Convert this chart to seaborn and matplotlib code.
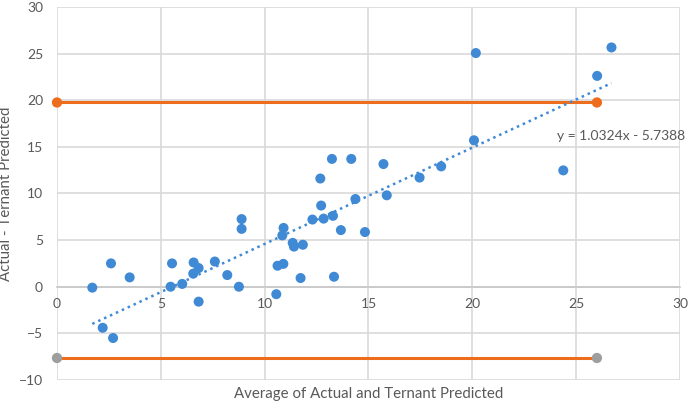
import numpy as np
import pandas as pd
import matplotlib
matplotlib.use("Agg")
import matplotlib.pyplot as plt
import seaborn as sns

# Bland-Altman style data
avg_vals = [1.7, 2.2, 2.6, 2.7, 3.5, 5.47, 5.54, 6.03, 6.56, 6.58, 6.82, 6.82, 7.6, 8.2,
            8.76, 8.89, 8.89, 10.56, 10.62, 10.9, 10.85, 10.91, 11.35, 11.41, 11.84, 11.73,
            12.3, 12.72, 12.84, 13.29, 13.34, 13.67, 12.68, 13.24, 14.17, 14.37, 14.83,
            15.72, 15.88, 17.46, 18.5, 20.17, 20.08, 24.38, 26.01, 26.7]
diff_vals = [-0.1, -4.4, 2.5, -5.5, 1.0, 0.0, 2.5, 0.3, 1.4, 2.6, 2.0, -1.6, 2.7, 1.25,
             0.0, 6.2, 7.25, -0.8, 2.25, 2.45, 5.5, 6.3, 4.7, 4.3, 4.5, 0.93,
             7.2, 8.7, 7.3, 7.6, 1.07, 6.07, 11.6, 13.7, 13.7, 9.4, 5.86,
             13.15, 9.8, 11.7, 12.9, 25.05, 15.7, 12.47, 22.6, 25.65]

limit_x = [0, 26]
upper_limit = 19.75
lower_limit = -7.64

slope = 1.0324
intercept = -5.7388

df = pd.DataFrame({"avg": avg_vals, "diff": diff_vals})

blue = "#3f89d5"
orange = "#ed6d1c"
gray = "#9e9e9e"
text_col = "#595959"

sns.set_style("white")
plt.rcParams["font.family"] = ["Lato", "DejaVu Sans"]

fig, ax = plt.subplots(figsize=(6.9, 4.04), dpi=100)
fig.subplots_adjust(left=0.0826, right=0.9855, top=0.983, bottom=0.0594)

# gridlines
ax.set_xlim(0, 30)
ax.set_ylim(-10, 30)
ax.set_xticks(range(0, 31, 5))
ax.set_yticks(range(-10, 31, 5))
ax.grid(True, color="#d9d9d9", linewidth=1.2)
ax.set_axisbelow(True)
for s in ["top", "right", "left"]:
    ax.spines[s].set_visible(False)
ax.spines["bottom"].set_position(("data", 0))
ax.spines["bottom"].set_color("#c8c8c8")
ax.spines["bottom"].set_linewidth(1.2)
ax.tick_params(axis="both", length=0, labelsize=10, colors=text_col)
ax.tick_params(axis="y", pad=10)
ax.tick_params(axis="x", pad=8)

# limit lines
ax.plot(limit_x, [upper_limit, upper_limit], color=orange, lw=2.2, zorder=2)
ax.plot(limit_x, [lower_limit, lower_limit], color=orange, lw=2.2, zorder=2)
sns.scatterplot(x=limit_x, y=[upper_limit, upper_limit], color=orange, s=55,
                edgecolor="none", ax=ax, zorder=3, clip_on=False)
sns.scatterplot(x=limit_x, y=[lower_limit, lower_limit], color=gray, s=55,
                edgecolor="none", ax=ax, zorder=3, clip_on=False)

# points
sns.scatterplot(data=df, x="avg", y="diff", color=blue, s=52, edgecolor="none",
                ax=ax, zorder=4)

# linear trendline
tx = np.array([df["avg"].min(), df["avg"].max()])
ax.plot(tx, slope * tx + intercept, color=blue, lw=1.8,
        linestyle=(0, (1, 1.6)), zorder=3)
ax.text(24.1, 16.2, f"y = {slope}x - {-intercept}", color=text_col, fontsize=10,
        va="center", ha="left", zorder=5)

ax.set_xlabel("Average of Actual and Ternant Predicted", fontsize=10.8, color=text_col)
ax.set_ylabel("Actual - Ternant Predicted", fontsize=10.8, color=text_col)
ax.xaxis.set_label_coords(0.5, -0.018)
ax.yaxis.set_label_coords(-0.07, 0.5)

plt.savefig("out.png", dpi=100)
